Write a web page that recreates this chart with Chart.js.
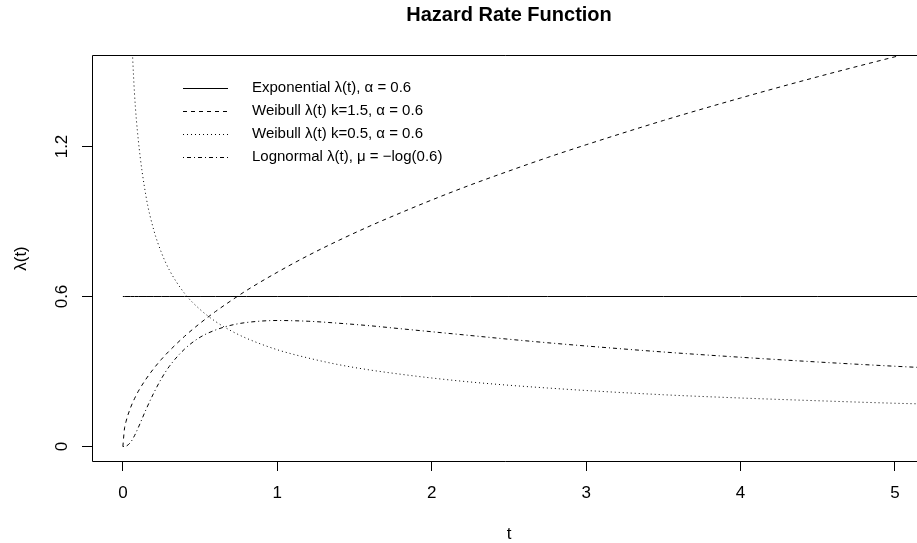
<!DOCTYPE html>
<html>
<head>
<meta charset="utf-8">
<title>Hazard Rate Function</title>
<script src="https://cdn.jsdelivr.net/npm/chart.js@4.4.1/dist/chart.umd.min.js"></script>
<style>
  html, body { margin: 0; padding: 0; background: #fff; }
  #chart-wrap { width: 917px; height: 543px; }
</style>
</head>
<body>
<div id="chart-wrap"><canvas id="hazard-chart" width="917" height="543"></canvas></div>
<script>
/* Hazard rate curves */

// t grid the curves were sampled at
const tValues = [0, 0.01, 0.02, 0.05, 0.075, 0.1, 0.15, 0.2, 0.25, 0.3, 0.4, 0.5, 0.6, 0.7, 0.8,
  1.0, 1.2, 1.4, 1.6, 1.8, 2.0, 2.25, 2.5, 2.75, 3.0, 3.5, 4.0, 4.5, 5.0, 5.2];

const exponentialRate = [0.6, 0.6, 0.6, 0.6, 0.6, 0.6, 0.6, 0.6, 0.6, 0.6, 0.6, 0.6, 0.6, 0.6, 0.6,
  0.6, 0.6, 0.6, 0.6, 0.6, 0.6, 0.6, 0.6, 0.6, 0.6, 0.6, 0.6, 0.6, 0.6, 0.6];

const weibull15Rate = [0, 0.070, 0.099, 0.156, 0.191, 0.221, 0.270, 0.312, 0.349, 0.382, 0.441, 0.493, 0.540, 0.583, 0.624,
  0.697, 0.764, 0.825, 0.882, 0.935, 0.986, 1.046, 1.102, 1.156, 1.207, 1.304, 1.394, 1.479, 1.559, 1.590];

const weibull05Rate = [null, null, null, 1.732, 1.414, 1.225, 1.000, 0.866, 0.775, 0.707, 0.612, 0.548, 0.500, 0.463, 0.433,
  0.387, 0.354, 0.327, 0.306, 0.289, 0.274, 0.258, 0.245, 0.234, 0.224, 0.207, 0.194, 0.183, 0.173, 0.170];

const lognormalRate = [0, 0, 0.001, 0.017, 0.043, 0.076, 0.148, 0.214, 0.272, 0.320, 0.390, 0.437, 0.466, 0.485, 0.496,
  0.504, 0.501, 0.493, 0.483, 0.471, 0.459, 0.444, 0.429, 0.415, 0.402, 0.378, 0.357, 0.338, 0.321, 0.315];

const xTicks = [0, 1, 2, 3, 4, 5];
const yTicks = [0, 0.6, 1.2];
const yTickLabels = ['0', '0.6', '1.2'];

const seriesLabels = [
  'Exponential \u03bb(t), \u03b1 = 0.6',
  'Weibull \u03bb(t) k=1.5, \u03b1 = 0.6',
  'Weibull \u03bb(t) k=0.5, \u03b1 = 0.6',
  'Lognormal \u03bb(t), \u03bc = \u2212log(0.6)'
];
const seriesDashes = [[], [4, 4], [1, 3], [1, 3, 4, 3]];

const FONT = '"Liberation Sans", Arial, sans-serif';

function toPoints(values) {
  return tValues.map((t, i) => ({ x: t, y: values[i] }));
}

// Frame, tick labels, titles and legend, R style
const rDecorations = {
  id: 'rDecorations',
  afterDraw(chart) {
    const ctx = chart.ctx;
    const area = chart.chartArea;
    const xs = chart.scales.x;
    const ys = chart.scales.y;
    ctx.save();

    // plot box (right side falls outside the picture)
    ctx.strokeStyle = '#000';
    ctx.lineWidth = 1;
    ctx.setLineDash([]);
    ctx.beginPath();
    ctx.moveTo(area.right + 20, area.top + 0.5);
    ctx.lineTo(area.left + 0.5, area.top + 0.5);
    ctx.lineTo(area.left + 0.5, area.bottom - 0.5);
    ctx.lineTo(area.right + 20, area.bottom - 0.5);
    ctx.stroke();

    ctx.fillStyle = '#000';

    // x tick labels
    ctx.font = '17px ' + FONT;
    ctx.textAlign = 'center';
    ctx.textBaseline = 'middle';
    xTicks.forEach(v => {
      ctx.fillText(String(v), xs.getPixelForValue(v), 493);
    });

    // y tick labels, rotated
    yTicks.forEach((v, i) => {
      ctx.save();
      ctx.translate(62, ys.getPixelForValue(v));
      ctx.rotate(-Math.PI / 2);
      ctx.fillText(yTickLabels[i], 0, 0);
      ctx.restore();
    });

    // axis titles
    ctx.fillText('t', (area.left + 926) / 2, 534);
    ctx.save();
    ctx.translate(21, (area.top + area.bottom) / 2);
    ctx.rotate(-Math.PI / 2);
    ctx.fillText('\u03bb(t)', 0, 0);
    ctx.restore();

    // main title
    ctx.font = 'bold 20px ' + FONT;
    ctx.fillText('Hazard Rate Function', (area.left + 926) / 2, 15);

    // legend
    ctx.font = '15px ' + FONT;
    ctx.textAlign = 'left';
    seriesLabels.forEach((label, i) => {
      const y = 88 + i * 23;
      ctx.setLineDash(seriesDashes[i]);
      ctx.beginPath();
      ctx.moveTo(183, y + 0.5);
      ctx.lineTo(228, y + 0.5);
      ctx.stroke();
      ctx.setLineDash([]);
      ctx.fillText(label, 252, y);
    });

    ctx.restore();
  }
};

// Initialize chart
function initHazardChart() {
  const canvas = document.getElementById('hazard-chart');
  if (!canvas) return;

  const rates = [exponentialRate, weibull15Rate, weibull05Rate, lognormalRate];

  new Chart(canvas, {
    type: 'line',
    data: {
      datasets: rates.map((values, i) => ({
        label: seriesLabels[i],
        data: toPoints(values),
        borderColor: '#000',
        borderWidth: 1,
        borderDash: seriesDashes[i],
        pointRadius: 0,
        fill: false,
        cubicInterpolationMode: 'monotone'
      }))
    },
    options: {
      responsive: false,
      animation: false,
      devicePixelRatio: 1,
      layout: { padding: { top: 55, right: 0, bottom: 0, left: 0 } },
      plugins: {
        legend: { display: false },
        title: { display: false },
        tooltip: { enabled: false }
      },
      scales: {
        x: {
          type: 'linear',
          min: -0.2,
          max: 5.1425,
          afterBuildTicks: scale => { scale.ticks = xTicks.map(v => ({ value: v })); },
          afterFit: scale => { scale.height = 81; },
          ticks: { display: false },
          border: { display: false },
          grid: { drawOnChartArea: false, drawTicks: true, tickLength: 9, color: '#000', lineWidth: 1 }
        },
        y: {
          type: 'linear',
          min: -0.062,
          max: 1.566,
          afterBuildTicks: scale => { scale.ticks = yTicks.map(v => ({ value: v })); },
          afterFit: scale => { scale.width = 92; },
          ticks: { display: false },
          border: { display: false },
          grid: { drawOnChartArea: false, drawTicks: true, tickLength: 10, color: '#000', lineWidth: 1 }
        }
      }
    },
    plugins: [rDecorations]
  });
}

document.addEventListener('DOMContentLoaded', () => {
  initHazardChart();
});
</script>
</body>
</html>
